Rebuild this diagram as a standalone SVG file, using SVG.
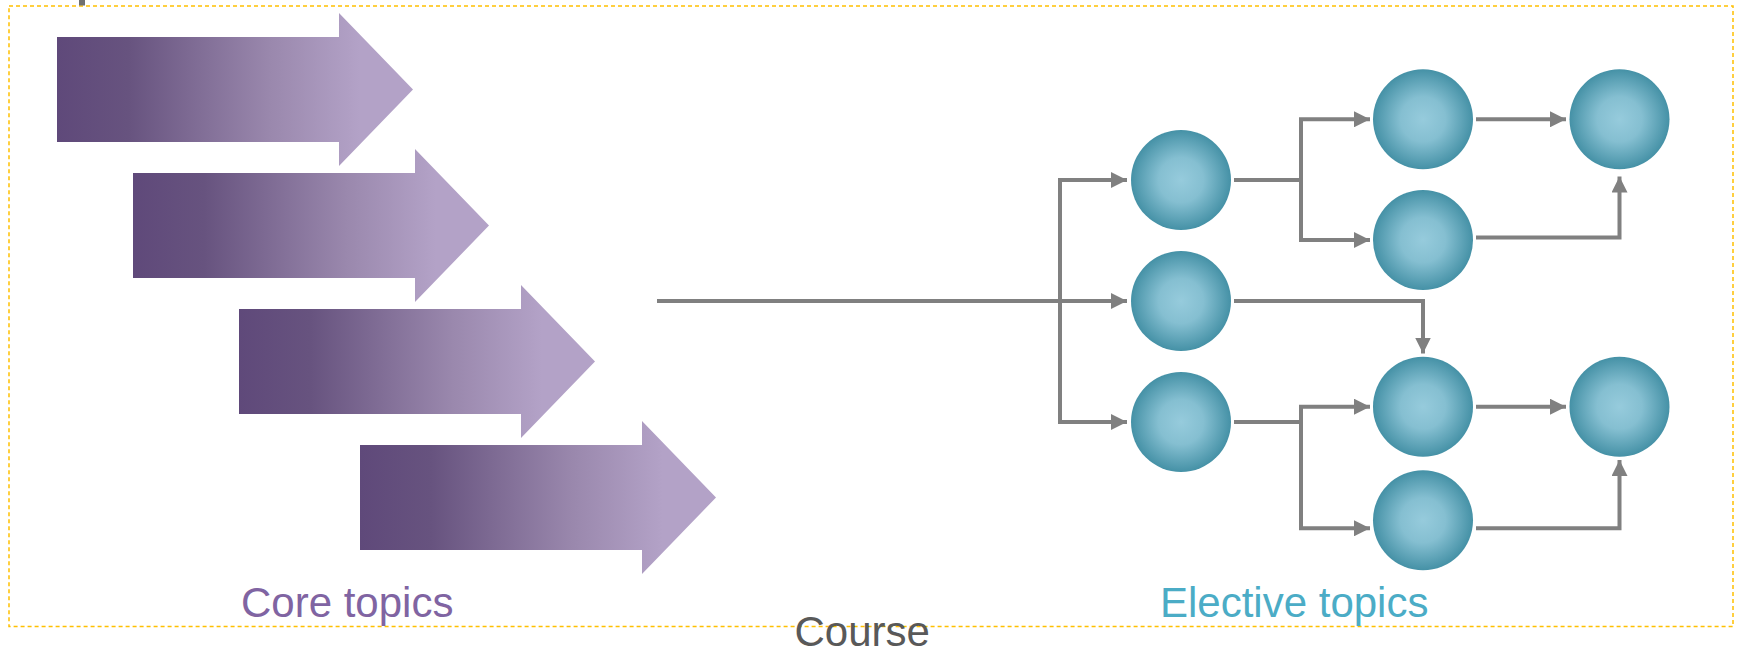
<svg xmlns="http://www.w3.org/2000/svg" width="1739" height="649" viewBox="0 0 1739 649">
<style>
.lbl{font-family:"Liberation Sans",Arial,sans-serif;font-size:42px}
.con{fill:none;stroke:#808080;stroke-width:4}
.arr{marker-end:url(#ah)}
.topic{fill:url(#cg)}
.core{fill:url(#pg)}
</style>
<defs>
<linearGradient id="pg" x1="0" y1="0" x2="1" y2="0">
<stop offset="0" stop-color="#5f497a"/>
<stop offset="0.2" stop-color="#67537f"/>
<stop offset="0.6" stop-color="#9a88ad"/>
<stop offset="0.85" stop-color="#b3a2c7"/>
<stop offset="1" stop-color="#b3a2c7"/>
</linearGradient>
<radialGradient id="cg" cx="0.5" cy="0.5" r="0.5">
<stop offset="0" stop-color="#96cbdc"/>
<stop offset="0.45" stop-color="#85bfd1"/>
<stop offset="1" stop-color="#4591a6"/>
</radialGradient>
<marker id="ah" markerUnits="userSpaceOnUse" markerWidth="16" markerHeight="16" refX="16" refY="8" orient="auto">
<path d="M0,0 L16,8 L0,16 z" fill="#808080"/>
</marker>
</defs>
<rect x="9" y="6" width="1724" height="620.6" fill="none" stroke="#ffc000" stroke-width="1.5" stroke-dasharray="4 3"/>
<rect x="79" y="0" width="6" height="5.5" fill="#707070"/>
<g id="core-arrows">
<path id="arrow1" class="core" d="M57,37 H339 V13 L413,89.5 L339,166 V142 H57 Z"/>
<path id="arrow2" class="core" d="M133,173 H415 V149 L489,225.5 L415,302 V278 H133 Z"/>
<path id="arrow3" class="core" d="M239,309 H521 V285 L595,361.5 L521,438 V414 H239 Z"/>
<path id="arrow4" class="core" d="M360,445 H642 V421 L716,497.5 L642,574 V550 H360 Z"/>
</g>
<g id="connectors">
<path class="con arr" d="M657,301 H1127"/>
<path class="con arr" d="M1060,301 V180 H1127"/>
<path class="con arr" d="M1060,301 V422 H1127"/>
<path class="con" d="M1234,180 H1301"/>
<path class="con arr" d="M1301,180 V119.3 H1370"/>
<path class="con arr" d="M1301,180 V240 H1370"/>
<path class="con arr" d="M1476,119.3 H1566"/>
<path class="con arr" d="M1476,237.5 H1619.5 V176.5"/>
<path class="con arr" d="M1234,301 H1423 V353.5"/>
<path class="con" d="M1234,422 H1301"/>
<path class="con arr" d="M1301,422 V406.7 H1370"/>
<path class="con arr" d="M1301,422 V528.3 H1370"/>
<path class="con arr" d="M1476,406.7 H1566"/>
<path class="con arr" d="M1476,528.3 H1619.5 V460"/>
</g>
<g id="node-a"><circle class="topic" cx="1181" cy="180" r="50"/></g>
<g id="node-b"><circle class="topic" cx="1181" cy="301" r="50"/></g>
<g id="node-f"><circle class="topic" cx="1181" cy="422" r="50"/></g>
<g id="node-c"><circle class="topic" cx="1423" cy="119.3" r="50"/></g>
<g id="node-d"><circle class="topic" cx="1423" cy="240" r="50"/></g>
<g id="node-g"><circle class="topic" cx="1423" cy="406.7" r="50"/></g>
<g id="node-i"><circle class="topic" cx="1423" cy="520.3" r="50"/></g>
<g id="node-e"><circle class="topic" cx="1619.5" cy="119.3" r="50"/></g>
<g id="node-h"><circle class="topic" cx="1619.5" cy="406.7" r="50"/></g>
<text class="lbl" x="241" y="616.5" fill="#8064a2">Core topics</text>
<text class="lbl" x="1160" y="616.5" fill="#4bacc6">Elective topics</text>
<text class="lbl" x="794.5" y="645.5" fill="#595959">Course</text>
</svg>
